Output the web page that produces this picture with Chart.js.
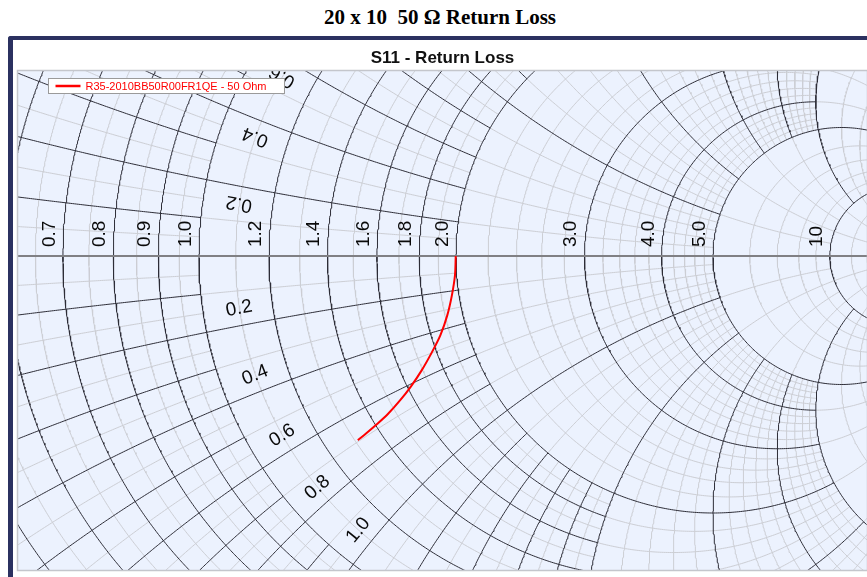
<!DOCTYPE html>
<html lang="en">
<head>
  <meta charset="UTF-8">
  <meta name="viewport" content="width=device-width, initial-scale=1.0">
  <title>20 x 10 50 Ohm Return Loss</title>
  <script src="https://cdn.jsdelivr.net/npm/chart.js@4.4.0/dist/chart.umd.min.js"></script>
  <style>
    body { margin: 0; background: #fff; width: 867px; height: 577px; overflow: hidden; position: relative; }
    #title { position: absolute; left: 0; top: 5px; width: 880px; text-align: center;
             font: bold 21px "Liberation Serif", "Times New Roman", serif; white-space: pre; color: #000; }
    #frame { position: absolute; left: 8px; top: 36px; width: 900px; height: 600px;
             border-left: 5px solid #2b3160; border-top: 4px solid #2b3160; border-top-left-radius: 3px; }
    #wrap { position: absolute; left: 13px; top: 40px; width: 854px; height: 537px; }
  </style>
</head>
<body>
  <div id="title">20 x 10  50 Ω Return Loss</div>
  <div id="frame"></div>
  <div id="wrap"><canvas id="myChart" width="854" height="537"></canvas></div>

  <script>
    // measured S11 trace (reflection coefficient, real / imaginary part)
    const s11Re = [0.333, 0.332, 0.328, 0.322, 0.313, 0.302, 0.289, 0.275, 0.261, 0.245, 0.231, 0.217, 0.206];
    const s11Im = [0.000, -0.025, -0.051, -0.077, -0.103, -0.125, -0.148, -0.169, -0.187, -0.205, -0.218, -0.230, -0.239];
    const seriesLabel = 'R35-2010BB50R00FR1QE - 50 Ohm';

    // labels printed on the chart
    const resistanceLabels = [0.7, 0.8, 0.9, 1.0, 1.2, 1.4, 1.6, 1.8, 2.0, 3.0, 4.0, 5.0, 10];
    const reactanceLabels = [0.2, 0.4, 0.6, 0.8, 1.0];

    // adaptive smith grid: bands of normalised r / x and the line steps used in them
    const bandEdges = [0, 1, 2, 5, 10, 20, 50, 1000];
    const majorSteps = [0.1, 0.2, 1, 5, 10, 50, 500];
    const minorSteps = [0.05, 0.1, 0.2, 1, 2, 10, 50];

    // visible window of the zoomed chart (gamma plane)
    const reMin = -0.23476, reMax = 0.86641;
    const imMin = -0.40726, imMax = 0.23995;

    function gamma(r, x) {
      const d = (r + 1) * (r + 1) + x * x;
      return { x: (r * r + x * x - 1) / d, y: 2 * x / d };
    }

    function isMultiple(v, step) {
      const k = v / step;
      return Math.abs(k - Math.round(k)) < 1e-6;
    }

    function stepValues(a, b, step) {
      const out = [];
      for (let k = Math.ceil(a / step - 1e-6); k <= Math.floor(b / step + 1e-6); k++) {
        out.push(+(k * step).toFixed(6));
      }
      return out;
    }

    // constant resistance circle, reactance x0..x1 (upper half)
    function resistanceArc(r, x0, x1) {
      const c = r / (1 + r), R = 1 / (1 + r);
      const ang = x => { const g = gamma(r, x); return Math.atan2(g.y, g.x - c); };
      const a0 = ang(x0), a1 = ang(x1);
      const n = Math.max(4, Math.ceil(Math.abs(a1 - a0) * R * 400));
      const pts = [];
      for (let i = 0; i <= n; i++) {
        const a = a0 + (a1 - a0) * i / n;
        pts.push({ x: c + R * Math.cos(a), y: R * Math.sin(a) });
      }
      return pts;
    }

    // constant reactance arc (x > 0), resistance r0..r1
    function reactanceArc(x, r0, r1) {
      const cy = 1 / x, R = 1 / x;
      const ang = r => {
        const g = gamma(r, x);
        let a = Math.atan2(g.y - cy, g.x - 1);
        if (a < 0) a += 2 * Math.PI;
        return a;
      };
      const a0 = ang(r0), a1 = ang(r1);
      const n = Math.max(4, Math.ceil(Math.abs(a1 - a0) * R * 400));
      const pts = [];
      for (let i = 0; i <= n; i++) {
        const a = a0 + (a1 - a0) * i / n;
        pts.push({ x: 1 + R * Math.cos(a), y: cy + R * Math.sin(a) });
      }
      return pts;
    }

    function buildGrid() {
      const segs = new Map();
      const put = (key, seg) => {
        if (!segs.has(key) || seg.major) segs.set(key, seg);
      };
      for (let i = 0; i < bandEdges.length - 1; i++) {
        for (let j = 0; j < bandEdges.length - 1; j++) {
          const b = Math.max(i, j);
          const major = majorSteps[b], minor = minorSteps[b];
          stepValues(bandEdges[i], bandEdges[i + 1], minor).forEach(v => {
            if (v === 0) return;
            put('r' + v + '_' + j, { kind: 'r', v, lo: bandEdges[j], hi: bandEdges[j + 1], major: isMultiple(v, major) });
          });
          stepValues(bandEdges[j], bandEdges[j + 1], minor).forEach(v => {
            if (v === 0) return;
            put('x' + v + '_' + i, { kind: 'x', v, lo: bandEdges[i], hi: bandEdges[i + 1], major: isMultiple(v, major) });
          });
        }
      }
      const majorPts = [], minorPts = [];
      segs.forEach(seg => {
        const pts = seg.kind === 'r' ? resistanceArc(seg.v, seg.lo, seg.hi) : reactanceArc(seg.v, seg.lo, seg.hi);
        const target = seg.major ? majorPts : minorPts;
        pts.forEach(p => target.push(p));
        target.push({ x: null, y: null });
        pts.forEach(p => target.push({ x: p.x, y: -p.y }));
        target.push({ x: null, y: null });
      });
      return { majorPts, minorPts };
    }

    const grid = buildGrid();
    const s11Points = s11Re.map((re, i) => ({ x: re, y: s11Im[i] }));

    const plotBackground = {
      id: 'plotBackground',
      beforeDatasetsDraw(chart) {
        const { ctx, chartArea: a } = chart;
        ctx.save();
        ctx.fillStyle = 'rgb(236, 242, 254)';
        ctx.fillRect(a.left, a.top, a.right - a.left, a.bottom - a.top);
        ctx.restore();
      },
      afterDraw(chart) {
        const { ctx, chartArea: a } = chart;
        ctx.save();
        ctx.strokeStyle = '#c4c6cc';
        ctx.lineWidth = 1.5;
        ctx.strokeRect(a.left - 0.5, a.top - 0.5, a.right - a.left + 1, a.bottom - a.top + 1);
        ctx.restore();
      }
    };

    const smithLabels = {
      id: 'smithLabels',
      afterDatasetsDraw(chart) {
        const { ctx, chartArea: a } = chart;
        const xs = chart.scales.x, ys = chart.scales.y;
        const px = g => ({ px: xs.getPixelForValue(g.x), py: ys.getPixelForValue(g.y) });
        const axisY = ys.getPixelForValue(0);
        ctx.save();
        ctx.beginPath();
        ctx.rect(a.left, a.top, a.right - a.left, a.bottom - a.top);
        ctx.clip();
        ctx.fillStyle = '#0a0a0a';
        ctx.font = '19px "Liberation Sans", Arial, sans-serif';

        resistanceLabels.forEach(r => {
          const p = px(gamma(r, 0));
          ctx.save();
          ctx.translate(p.px - 8, axisY - 9);
          ctx.rotate(-Math.PI / 2);
          ctx.textAlign = 'left';
          ctx.textBaseline = 'alphabetic';
          ctx.fillText(r < 10 ? r.toFixed(1) : String(r), 0, 0);
          ctx.restore();
        });

        reactanceLabels.forEach(v => {
          [1, -1].forEach(s => {
            const p0 = px(gamma(1.08, s * v)), p1 = px(gamma(1.12, s * v)), c = px(gamma(1.1, s * v));
            const ang = Math.atan2(p1.py - p0.py, p1.px - p0.px);
            let nx = -Math.sin(ang), ny = Math.cos(ang);
            if ((ny > 0) !== (c.py < axisY)) { nx = -nx; ny = -ny; }
            ctx.save();
            ctx.translate(c.px + 17 * nx, c.py + 17 * ny);
            ctx.rotate(s > 0 ? ang + Math.PI : ang);
            ctx.textAlign = 'center';
            ctx.textBaseline = 'middle';
            ctx.fillText(v.toFixed(1), 0, 0);
            ctx.restore();
          });
        });
        ctx.restore();
      }
    };

    const legendBox = {
      id: 'legendBox',
      afterDraw(chart) {
        const { ctx, chartArea: a } = chart;
        const ds = chart.data.datasets[0];
        ctx.save();
        ctx.font = '11px "Liberation Sans", Arial, sans-serif';
        const w = 37 + ctx.measureText(ds.label).width + 18;
        const left = a.left + 30.5, top = a.top + 7.5, h = 15;
        ctx.fillStyle = '#fff';
        ctx.fillRect(left, top, w, h);
        ctx.strokeStyle = '#9a9a9a';
        ctx.lineWidth = 1;
        ctx.strokeRect(left, top, w, h);
        ctx.strokeStyle = ds.borderColor;
        ctx.lineWidth = 2.5;
        ctx.beginPath();
        ctx.moveTo(left + 7, top + h / 2);
        ctx.lineTo(left + 32, top + h / 2);
        ctx.stroke();
        ctx.fillStyle = ds.borderColor;
        ctx.textBaseline = 'middle';
        ctx.fillText(ds.label, left + 37, top + h / 2 + 0.5);
        ctx.restore();
      }
    };

    const ctx = document.getElementById('myChart').getContext('2d');
    const myChart = new Chart(ctx, {
      type: 'scatter',
      data: {
        datasets: [{
          label: seriesLabel,
          data: s11Points,
          showLine: true,
          borderColor: 'rgb(255, 0, 0)',
          borderWidth: 2,
          pointRadius: 0,
          tension: 0.3,
          order: 0
        }, {
          label: 'axis',
          data: [{ x: -1, y: 0 }, { x: 1, y: 0 }],
          showLine: true,
          borderColor: 'rgb(128, 128, 132)',
          borderWidth: 2,
          pointRadius: 0,
          order: 1
        }, {
          label: 'major',
          data: grid.majorPts,
          showLine: true,
          spanGaps: false,
          borderColor: 'rgb(45, 45, 55)',
          borderWidth: 1,
          pointRadius: 0,
          order: 2
        }, {
          label: 'minor',
          data: grid.minorPts,
          showLine: true,
          spanGaps: false,
          borderColor: 'rgb(204, 206, 212)',
          borderWidth: 1,
          pointRadius: 0,
          order: 3
        }]
      },
      options: {
        responsive: false,
        animation: false,
        events: [],
        layout: { padding: { left: 5, right: 0, top: 0, bottom: 7 } },
        scales: {
          x: { type: 'linear', min: reMin, max: reMax, display: false },
          y: { type: 'linear', min: imMin, max: imMax, display: false }
        },
        plugins: {
          legend: { display: false },
          tooltip: { enabled: false },
          title: {
            display: true,
            text: 'S11 - Return Loss',
            color: '#111',
            font: { family: '"Liberation Sans", Arial, sans-serif', size: 17, weight: 'bold', lineHeight: 1 },
            padding: { top: 10, bottom: 4 }
          }
        }
      },
      plugins: [plotBackground, smithLabels, legendBox]
    });
  </script>
</body>
</html>
